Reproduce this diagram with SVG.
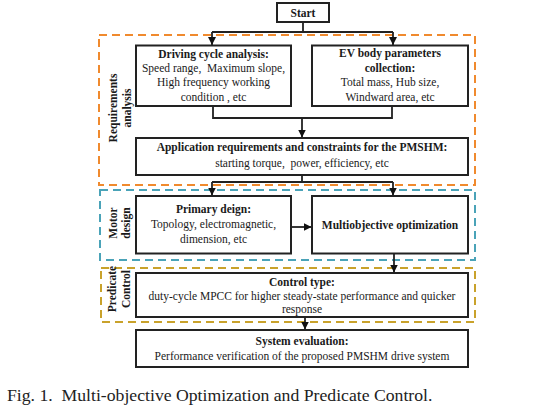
<svg xmlns="http://www.w3.org/2000/svg" width="542" height="411" viewBox="0 0 542 411" xml:space="preserve">
<style>
  text { font-family: "Liberation Serif", "Times New Roman", serif; font-size: 11.5px; fill: #1a1a1a; text-anchor: middle; white-space: pre; }
  .b { font-weight: bold; }
  .box { fill: #ffffff; stroke: #222222; stroke-width: 2; }
  .grp { fill: none; stroke-width: 2; stroke-dasharray: 8 5; }
  .conn { fill: none; stroke: #222222; stroke-width: 1.8; }
  .cap { font-size: 17.7px; text-anchor: start; fill: #222222; }
</style>
<defs>
  <marker id="arr" markerUnits="userSpaceOnUse" markerWidth="9" markerHeight="9" refX="8" refY="4" orient="auto">
    <path d="M0,0 L8,4 L0,8 Z" fill="#111111"/>
  </marker>
</defs>
<rect width="542" height="411" fill="#ffffff"/>

<g id="stage-requirements">
  <rect class="grp" x="99" y="35" width="376" height="150" stroke="#F08A2E"/>
  <text class="b" transform="translate(117,108) rotate(-90)">Requirements</text>
  <text class="b" transform="translate(131,108) rotate(-90)">analysis</text>
</g>
<g id="stage-motor">
  <rect class="grp" x="100" y="190" width="375" height="70" stroke="#4AA3B8"/>
  <text class="b" transform="translate(116.5,223) rotate(-90)">Motor</text>
  <text class="b" transform="translate(129.5,223) rotate(-90)">design</text>
</g>
<g id="stage-control">
  <rect class="grp" x="101" y="268" width="374" height="54" stroke="#C9A22B"/>
  <text class="b" transform="translate(116,289) rotate(-90)">Predicate</text>
  <text class="b" transform="translate(130,289) rotate(-90)">Control</text>
</g>

<g id="connectors">
  <path class="conn" d="M303,22 V32 M212,32 H393"/>
  <path class="conn" d="M212,32 V45" marker-end="url(#arr)"/>
  <path class="conn" d="M393,32 V45" marker-end="url(#arr)"/>
  <path class="conn" d="M213,106 V118 H392 V106"/>
  <path class="conn" d="M302,118 V137.5" marker-end="url(#arr)"/>
  <path class="conn" d="M302,175 V182 M212,182 H393"/>
  <path class="conn" d="M212,182 V195.5" marker-end="url(#arr)"/>
  <path class="conn" d="M393,182 V195.5" marker-end="url(#arr)"/>
  <path class="conn" d="M291,227 H311.5" marker-end="url(#arr)"/>
  <path class="conn" d="M394,253.5 V272.5" marker-end="url(#arr)"/>
  <path class="conn" d="M305,317 V329.5" marker-end="url(#arr)"/>
</g>

<g id="start">
  <rect class="box" x="277" y="3" width="52" height="19"/>
  <text class="b" x="303" y="16.5">Start</text>
</g>
<g id="driving-cycle">
  <rect class="box" x="136" y="45.5" width="155" height="60.5"/>
  <text class="b" x="213.5" y="57.5">Driving cycle analysis:</text>
  <text x="213.5" y="71.5">Speed range,  Maximum slope,</text>
  <text x="213.5" y="86">High frequency working</text>
  <text x="213.5" y="100.5">condition , etc</text>
</g>
<g id="ev-body">
  <rect class="box" x="312" y="45.5" width="156" height="60.5"/>
  <text class="b" x="390" y="57">EV body parameters</text>
  <text class="b" x="390" y="71.5">collection:</text>
  <text x="390" y="86">Total mass, Hub size,</text>
  <text x="390" y="100.5">Windward area, etc</text>
</g>
<g id="app-requirements">
  <rect class="box" x="136" y="138" width="332" height="37"/>
  <text class="b" x="302" y="150.5">Application requirements and constraints for the PMSHM:</text>
  <text x="302" y="166.5">starting torque,  power, efficiency, etc</text>
</g>
<g id="primary-design">
  <rect class="box" x="136" y="196" width="155" height="57.5"/>
  <text class="b" x="213.5" y="213">Primary deign:</text>
  <text x="213.5" y="228">Topology, electromagnetic,</text>
  <text x="213.5" y="242.5">dimension, etc</text>
</g>
<g id="multiobjective">
  <rect class="box" x="312" y="196" width="156" height="57.5"/>
  <text class="b" x="390" y="229">Multiobjective optimization</text>
</g>
<g id="control-type">
  <rect class="box" x="136" y="273" width="332" height="44"/>
  <text class="b" x="302" y="286">Control type:</text>
  <text x="302" y="299.5">duty-cycle MPCC for higher steady-state performance and quicker</text>
  <text x="302" y="313">response</text>
</g>
<g id="system-evaluation">
  <rect class="box" x="136" y="330" width="332" height="37"/>
  <text class="b" x="302" y="345">System evaluation:</text>
  <text x="302" y="360">Performance verification of the proposed PMSHM drive system</text>
</g>

<text class="cap" x="7" y="401">Fig. 1.  Multi-objective Optimization and Predicate Control.</text>
</svg>
